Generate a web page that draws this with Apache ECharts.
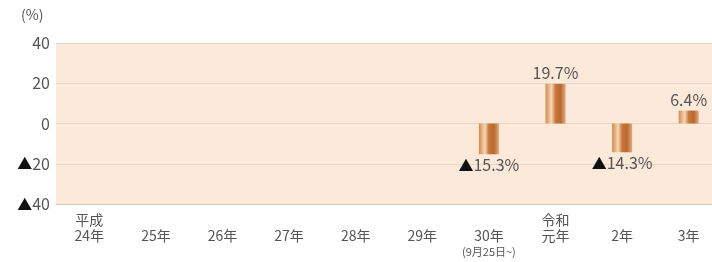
<!DOCTYPE html>
<html><head><meta charset="utf-8">
<script src="https://cdn.jsdelivr.net/npm/echarts@6/dist/echarts.min.js"></script>
<style>html,body{margin:0;padding:0;background:#fff;overflow:hidden;width:712px;height:262px}#c{width:722px;height:262px}</style>
</head><body><div id="c"></div>
<script>
const categories = ['平成\n24年','\n25年','\n26年','\n27年','\n28年','\n29年','\n30年\n{s|(9月25日~)}','令和\n元年','\n2年','\n3年'];
const values = [null,null,null,null,null,null,-15.3,19.7,-14.3,6.4];
const yTicks = [-40,-20,0,20,40];
const unitLabel = '(%)';

const FONT = '"Noto Sans CJK JP", "Noto Sans", sans-serif';
const chart = echarts.init(document.getElementById('c'));
const barGrad = new echarts.graphic.LinearGradient(0,0,1,0,[
  {offset:0,color:'#d48a4c'},
  {offset:0.3,color:'#f6d7b8'},
  {offset:0.5,color:'#c8783c'},
  {offset:0.75,color:'#b9692f'},
  {offset:1,color:'#e2a878'}
]);
function fmtVal(v){
  if (v == null) return '';
  return v < 0 ? '{t|▲}' + Math.abs(v).toFixed(1) + '%' : v.toFixed(1) + '%';
}
chart.setOption({
  animation:false,
  textStyle:{fontFamily:FONT},
  grid:{left:56,right:0,top:43,bottom:58,show:true,backgroundColor:'#fbe9da',borderWidth:0},
  graphic:[{type:'text',left:21,top:8,style:{text:unitLabel,font:'14px '+FONT,fill:'#555'}}],
  xAxis:{
    type:'category',data:categories,position:'bottom',
    axisLine:{onZero:false,lineStyle:{color:'#d9c9b9',width:1}},
    axisTick:{show:false},
    axisLabel:{color:'#555',fontSize:14,lineHeight:16,margin:8,interval:0,fontFamily:FONT,
      rich:{s:{fontSize:11,color:'#555',lineHeight:15,fontFamily:FONT}}}
  },
  yAxis:{
    type:'value',min:yTicks[0],max:yTicks[yTicks.length-1],interval:20,
    axisLine:{show:false},axisTick:{show:false},
    splitLine:{lineStyle:{color:'#e8d6c3',width:1}},
    axisLabel:{color:'#555',fontSize:16,margin:6,fontFamily:FONT,
      formatter:function(v){return v<0?'{t|▲}'+Math.abs(v):String(v);},
      rich:{t:{color:'#111',fontSize:15,fontFamily:FONT}}}
  },
  series:[{
    type:'bar',data:values,barWidth:20,
    itemStyle:{color:barGrad},
    label:{show:true,position:'outside',color:'#555',fontSize:16,fontFamily:FONT,distance:3,
      formatter:function(p){return fmtVal(p.value);},
      rich:{t:{color:'#111',fontSize:15,fontFamily:FONT}}}
  }]
});
</script></body></html>
